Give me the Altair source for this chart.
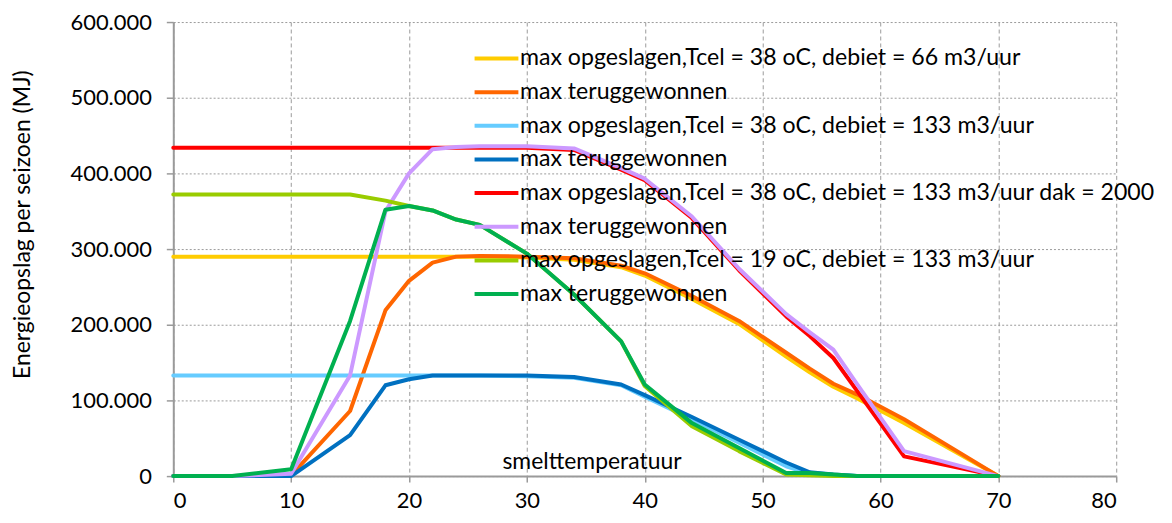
import altair as alt
import pandas as pd

# smelttemperatuur (x) values
x_vals = [0, 5, 10, 15, 18, 20, 22, 24, 26, 30, 34, 38, 40, 44, 48, 52, 54, 56, 58, 62, 70]

# series values in thousands of MJ
yellow = [290, 290, 290, 290, 290, 290, 290, 290, 290, 289, 286, 276, 265, 234, 201, 158, 137, 118, 103, 70, 0]
orange = [0, 0, 1, 86, 219, 258, 282, 290, 291, 290, 288, 278, 268, 238, 205, 163, 142, 122, 108, 75, 0]
lightblue = [133, 133, 133, 133, 133, 133, 133, 133, 133, 132, 130, 120, 105, 75, 44, 13, 3, 1, 0, 0, 0]
blue = [0, 0, 0, 54, 120, 128, 133, 133, 133, 133, 131, 121, 107, 78, 48, 18, 5, 2, 0, 0, 0]
red = [434, 434, 434, 434, 434, 434, 434, 434, 434, 434, 431, 405, 391, 341, 272, 211, 185, 156, 113, 26, 0]
purple = [0, 0, 3, 133, 350, 400, 432, 435, 436, 436, 433, 407, 393, 343, 274, 214, 190, 167, 122, 33, 0]
yellowgreen = [372, 372, 372, 372, 364, 357, 351, 339, 332, 294, 240, 178, 119, 66, 33, 2, 1, 0, 0, 0, 0]
green = [0, 0, 9, 205, 352, 357, 351, 339, 332, 294, 240, 178, 121, 70, 37, 4, 4, 2, 0, 0, 0]

series_keys = ["s1", "s2", "s3", "s4", "s5", "s6", "s7", "s8"]
series_labels = [
    "max opgeslagen,Tcel = 38 oC, debiet = 66 m3/uur",
    "max teruggewonnen",
    "max opgeslagen,Tcel = 38 oC, debiet = 133 m3/uur",
    "max teruggewonnen",
    "max opgeslagen,Tcel = 38 oC, debiet = 133 m3/uur dak = 2000",
    "max teruggewonnen",
    "max opgeslagen,Tcel = 19 oC, debiet = 133 m3/uur",
    "max teruggewonnen",
]
series_colors = ["#FFCC00", "#FF6600", "#66CCFF", "#0070C0", "#FF0000", "#CC99FF", "#99CC00", "#00B050"]
series_values = [yellow, orange, lightblue, blue, red, purple, yellowgreen, green]

y_ticks = [0, 100, 200, 300, 400, 500, 600]
x_ticks = [0, 10, 20, 30, 40, 50, 60, 70, 80]

rows = []
for key, vals in zip(series_keys, series_values):
    for xv, yv in zip(x_vals, vals):
        rows.append({"series": key, "x": xv, "y": yv * 1000})
df = pd.DataFrame(rows)

FONT = "Lato"
FS_TICK = 22
FS_TEXT = 23
FS_LEGEND = 23.2
GRAY = "#9A9A9A"

keys_js = "[" + ",".join("'%s'" % k for k in series_keys) + "]"
labels_js = "[" + ",".join("'%s'" % l for l in series_labels) + "]"
label_expr = "%s[indexof(%s, datum.value)]" % (labels_js, keys_js)

color_scale = alt.Scale(domain=series_keys, range=series_colors)

base = alt.Chart(df).mark_line(strokeWidth=4, strokeCap="round", strokeJoin="round").encode(
    x=alt.X(
        "x:Q",
        scale=alt.Scale(domain=[0, 80], nice=False),
        axis=alt.Axis(
            values=x_ticks,
            title="smelttemperatuur",
            titleX=420,
            titleY=-15,
            titleBaseline="middle",
            titleFont=FONT,
            titleFontSize=FS_TEXT,
            titleFontWeight="normal",
            titleColor="black",
            labelFont=FONT,
            labelFontSize=FS_TICK,
            labelColor="black",
            labelPadding=9,
            tickSize=6,
            tickColor=GRAY,
            tickWidth=1.5,
            domainColor=GRAY,
            domainWidth=2,
            grid=True,
            gridColor=GRAY,
            gridDash=[4, 3],
            gridWidth=1,
        ),
    ),
    y=alt.Y(
        "y:Q",
        scale=alt.Scale(domain=[0, 600000], nice=False),
        axis=alt.Axis(
            values=[v * 1000 for v in y_ticks],
            labelExpr="datum.value == 0 ? '0' : replace(format(datum.value, ','), ',', '.')",
            title="Energieopslag per seizoen (MJ)",
            titleX=-151,
            titleY=203,
            titleAlign="center",
            titleBaseline="middle",
            titleAngle=270,
            titleFont=FONT,
            titleFontSize=FS_TEXT,
            titleFontWeight="normal",
            titleColor="black",
            labelFont=FONT,
            labelFontSize=FS_TICK,
            labelColor="black",
            labelPadding=15,
            tickSize=7,
            tickColor=GRAY,
            tickWidth=1.5,
            domainColor=GRAY,
            domainWidth=2,
            grid=True,
            gridColor=GRAY,
            gridDash=[2, 2],
            gridWidth=1,
        ),
    ),
    color=alt.Color(
        "series:N",
        scale=color_scale,
        legend=alt.Legend(
            orient="none",
            legendX=313,
            legendY=25,
            title=None,
            symbolType="M-4,0H4",
            symbolSize=121,
            symbolStrokeWidth=4,
            labelFont=FONT,
            labelFontSize=FS_LEGEND,
            labelColor="black",
            labelOffset=12,
            labelLimit=0,
            rowPadding=9.8,
            padding=0,
            labelExpr=label_expr,
        ),
    ),
)

layers = [base.transform_filter(alt.datum.series == k) for k in series_keys]

chart = alt.layer(*layers).properties(
    width=947,
    height=456,
    autosize=alt.AutoSizeParams(type="none"),
    padding={"left": 166, "top": 13, "right": 48, "bottom": 44},
).configure_view(stroke=None)

chart.save("out.html", embed_options={"renderer": "svg", "actions": False})
